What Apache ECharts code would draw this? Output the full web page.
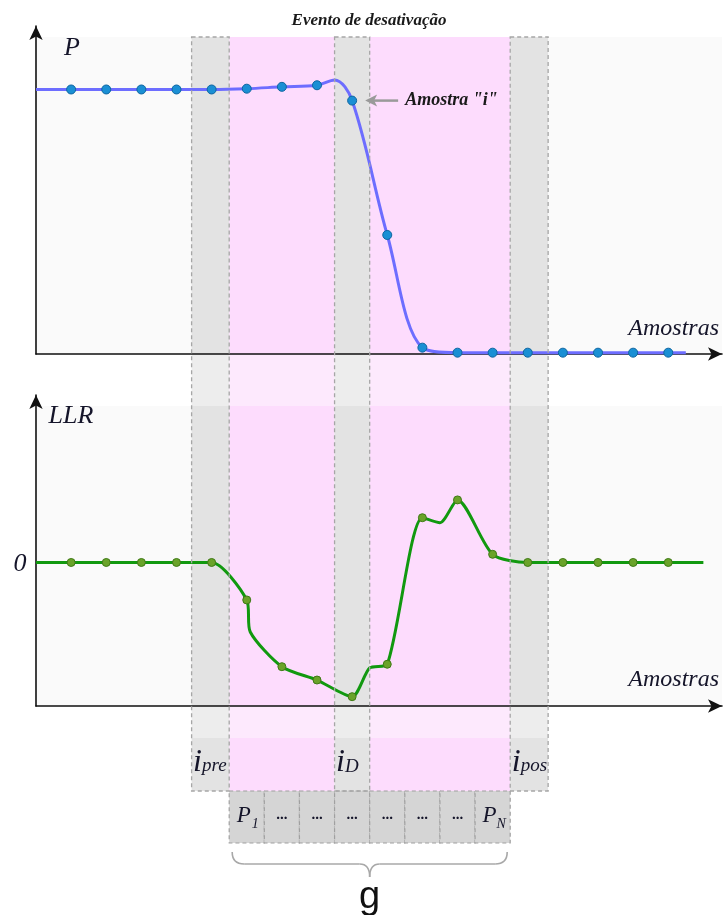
<!DOCTYPE html>
<html><head><meta charset="utf-8">
<script src="https://cdn.jsdelivr.net/npm/echarts@6/dist/echarts.min.js"></script>
<style>html,body{margin:0;padding:0;background:#fff}#c{width:728px;height:915px}</style>
</head><body><div id="c"></div>
<script>
// ---------------- data ----------------
const sampleIdx = [0,1,2,3,4,5,6,7,8,9,10,11,12,13,14,15,16,17];
const powerSamples = [1.0,1.0,1.0,1.0,1.0,1.003,1.010,1.016,0.958,0.45,0.024,0.005,0.005,0.005,0.005,0.005,0.005,0.005];
// extra curve vertices (no marker)
const powerCurveIdx = [-1, 7.5, 17.5];
const powerCurveVal = [1.0, 1.036, 0.005];
const llrSamples = [0,0,0,0,0,-0.261,-0.726,-0.819,-0.935,-0.709,0.312,0.436,0.057,0,0,0,0,0];
const llrCurveIdx = [-1, 5.1, 8.5, 10.5, 18];
const llrCurveVal = [0, -0.484, -0.735, 0.277, 0];
// windows (sample units)
const colPre = [3.43, 4.5];
const colD = [7.5, 8.5];
const colPos = [12.5, 13.58];
const cellLabels = ['P','…','…','…','…','…','…','P'];
const cellSubs = ['1','','','','','','','N'];
const amostraIdx = 8;

// ---------------- chart ----------------
const chart = echarts.init(document.getElementById('c'), null, {renderer:'canvas'});
function merge(ai, av, bi, bv){
  const pts = ai.map((k,i)=>[k,av[i]]).concat(bi.map((k,i)=>[k,bv[i]]));
  pts.sort((a,b)=>a[0]-b[0]);
  return pts;
}
const axisLineStyle = {color:'#111', width:1.6};
const serif = '"Liberation Serif", "DejaVu Serif", serif';
const ink = '#15152a';

chart.setOption({
  animation:false,
  grid:[
    {left:36, right:6, top:26, height:328},
    {left:36, right:6, top:395, height:311}
  ],
  xAxis:[0,1].map(g=>({gridIndex:g, type:'value', min:-1, max:18.53, z:3,
    axisLine:{onZero:false, show:true, symbol:['none','arrow'], symbolSize:[10,14], lineStyle:axisLineStyle},
    axisTick:{show:false}, axisLabel:{show:false}, splitLine:{show:false}})),
  yAxis:[
    {gridIndex:0, type:'value', min:0, max:1.24, z:3,
     axisLine:{show:true, onZero:false, symbol:['none','arrow'], symbolSize:[10,14], lineStyle:axisLineStyle},
     axisTick:{show:false}, axisLabel:{show:false}, splitLine:{show:false}},
    {gridIndex:1, type:'value', min:-1, max:1.167, z:3,
     axisLine:{show:true, onZero:false, symbol:['none','arrow'], symbolSize:[10,14], lineStyle:axisLineStyle},
     axisTick:{show:false}, axisLabel:{show:false}, splitLine:{show:false}}
  ],
  series:[
    {type:'line', xAxisIndex:0, yAxisIndex:0, z:4, smooth:0.35, showSymbol:false,
     data: merge(sampleIdx, powerSamples, powerCurveIdx, powerCurveVal),
     lineStyle:{color:'#6d6dff', width:3}},
    {type:'scatter', xAxisIndex:0, yAxisIndex:0, z:5, symbolSize:9,
     data: sampleIdx.map((k,i)=>[k,powerSamples[i]]),
     itemStyle:{color:'#1a8fd4', borderColor:'#0d65a0', borderWidth:1, opacity:1}},
    {type:'line', xAxisIndex:1, yAxisIndex:1, z:4, smooth:0.25, showSymbol:false,
     data: merge(sampleIdx, llrSamples, llrCurveIdx, llrCurveVal),
     lineStyle:{color:'#11990f', width:3}},
    {type:'scatter', xAxisIndex:1, yAxisIndex:1, z:5, symbolSize:8,
     data: sampleIdx.map((k,i)=>[k,llrSamples[i]]),
     itemStyle:{color:'#6aa32a', borderColor:'#3f7a16', borderWidth:1, opacity:1}}
  ]
});

const px = k => chart.convertToPixel({xAxisIndex:0}, k);
const g = [];
// plot backgrounds
const bgL = 37, bgR = 722;
const topBg = [37, 354], botBg = [406, 706], band = [738, 791];
g.push({type:'rect', z:-20, shape:{x:bgL, y:topBg[0], width:bgR-bgL, height:topBg[1]-topBg[0]}, style:{fill:'#fafafa'}});
g.push({type:'rect', z:-20, shape:{x:bgL, y:botBg[0], width:bgR-bgL, height:botBg[1]-botBg[0]}, style:{fill:'#fafafa'}});
// columns
const strongSegs = [topBg, botBg, band];
const lightSegs = [[topBg[1], botBg[0]], [botBg[1], band[0]]];
function column(k0, k1, strong, light, dashed){
  const x0 = px(k0), x1 = px(k1);
  strongSegs.forEach(s=>g.push({type:'rect', z:-10, shape:{x:x0, y:s[0], width:x1-x0, height:s[1]-s[0]}, style:{fill:strong}}));
  lightSegs.forEach(s=>g.push({type:'rect', z:-10, shape:{x:x0, y:s[0], width:x1-x0, height:s[1]-s[0]}, style:{fill:light}}));
  if (dashed) g.push({type:'rect', z:6, shape:{x:x0, y:topBg[0], width:x1-x0, height:band[1]-topBg[0]},
    style:{fill:null, stroke:'#a6a6a6', lineWidth:1.3, lineDash:[4,3]}});
}
column(colPre[1], colD[0], '#fddcfd', '#fde9fd', false);
column(colD[1], colPos[0], '#fddcfd', '#fde9fd', false);
column(colPre[0], colPre[1], '#e3e3e3', '#ededed', true);
column(colD[0], colD[1], '#e3e3e3', '#ededed', true);
column(colPos[0], colPos[1], '#e3e3e3', '#ededed', true);
// text helper: baseline placement (middle-anchored, offset by font size)
function txt(x, base, text, size, style, align, fill){
  g.push({type:'text', z:8, x:x, y:base - 0.3*size,
    style:{text:text, font:(style||'italic')+' '+size+'px '+serif, fill:fill||ink, align:align||'left', verticalAlign:'middle'}});
}
// cells
const cellTop = 791, cellBot = 843;
cellLabels.forEach((lab,i)=>{
  const x0 = px(colPre[1]+i), x1 = px(colPre[1]+i+1);
  g.push({type:'rect', z:5, shape:{x:x0, y:cellTop, width:x1-x0, height:cellBot-cellTop},
    style:{fill:'#d5d5d5', stroke:'#a0a0a0', lineWidth:1.2, lineDash:[4,3]}});
  const cx = (x0+x1)/2;
  if (cellSubs[i]) {
    txt(cx-3, 823, lab, 23, 'italic', 'center');
    txt(cx+8.5, 829, cellSubs[i], 14, 'italic', 'center');
  } else {
    txt(cx, 820, '...', 15, 'bold', 'center');
  }
});
// i labels
function iLabel(c, sub, subSize, dy){
  const x0 = px(c[0]);
  txt(x0+1.5, 772, 'i', 32, 'italic', 'left');
  txt(x0+10.5, 772+(dy||0), sub, subSize, 'italic', 'left');
}
iLabel(colPre, 'pre', 19);
iLabel(colD, 'D', 19, 1);
iLabel(colPos, 'pos', 19);
// brace
const L = px(colPre[1])+3, R = px(colPos[0])-3, M = (L+R)/2;
const yT = 852, yM = 864, yTip = 877;
const braceStyle = {fill:null, stroke:'#a8a8a8', lineWidth:1.6};
g.push({type:'bezierCurve', z:8, shape:{x1:L, y1:yT, cpx1:L, cpy1:yM, x2:L+12, y2:yM}, style:braceStyle});
g.push({type:'line', z:8, shape:{x1:L+12, y1:yM, x2:M-10, y2:yM}, style:braceStyle});
g.push({type:'bezierCurve', z:8, shape:{x1:M-10, y1:yM, cpx1:M, cpy1:yM, x2:M, y2:yTip}, style:braceStyle});
g.push({type:'bezierCurve', z:8, shape:{x1:M+10, y1:yM, cpx1:M, cpy1:yM, x2:M, y2:yTip}, style:braceStyle});
g.push({type:'line', z:8, shape:{x1:M+10, y1:yM, x2:R-12, y2:yM}, style:braceStyle});
g.push({type:'bezierCurve', z:8, shape:{x1:R-12, y1:yM, cpx1:R, cpy1:yM, x2:R, y2:yT}, style:braceStyle});
g.push({type:'text', z:8, x:M, y:898, style:{text:'g', font:'38px "Liberation Sans", Arial, sans-serif', fill:'#111', align:'center', verticalAlign:'middle'}});
// axis / title labels
g.push({type:'text', z:8, x:369, y:21, style:{text:'Evento de desativação', font:'bold italic 17px '+serif, fill:'#1a1a1a', align:'center', verticalAlign:'middle'}});
g.push({type:'text', z:8, x:72, y:48, style:{text:'P', font:'italic 26px '+serif, fill:ink, align:'center', verticalAlign:'middle'}});
g.push({type:'text', z:8, x:71, y:416, style:{text:'LLR', font:'italic 26px '+serif, fill:ink, align:'center', verticalAlign:'middle'}});
g.push({type:'text', z:8, x:719, y:329, style:{text:'Amostras', font:'italic 24px '+serif, fill:ink, align:'right', verticalAlign:'middle'}});
g.push({type:'text', z:8, x:719, y:680, style:{text:'Amostras', font:'italic 24px '+serif, fill:ink, align:'right', verticalAlign:'middle'}});
g.push({type:'text', z:8, x:20, y:564, style:{text:'0', font:'italic 26px '+serif, fill:ink, align:'center', verticalAlign:'middle'}});
// Amostra "i" annotation
const ap = chart.convertToPixel({xAxisIndex:0, yAxisIndex:0}, [amostraIdx, powerSamples[amostraIdx]]);
const tipX = ap[0]+13, ay = ap[1];
g.push({type:'line', z:8, shape:{x1:tipX+8, y1:ay, x2:tipX+33, y2:ay}, style:{stroke:'#9a9a9a', lineWidth:2.5}});
g.push({type:'polygon', z:8, shape:{points:[[tipX,ay],[tipX+12,ay-6],[tipX+9,ay],[tipX+12,ay+6]]}, style:{fill:'#9a9a9a'}});
g.push({type:'text', z:8, x:tipX+40, y:ay, style:{text:'Amostra "i"', font:'bold italic 18px '+serif, fill:'#1a1a1a', align:'left', verticalAlign:'middle'}});

chart.setOption({graphic:{elements:g}});
</script></body></html>
